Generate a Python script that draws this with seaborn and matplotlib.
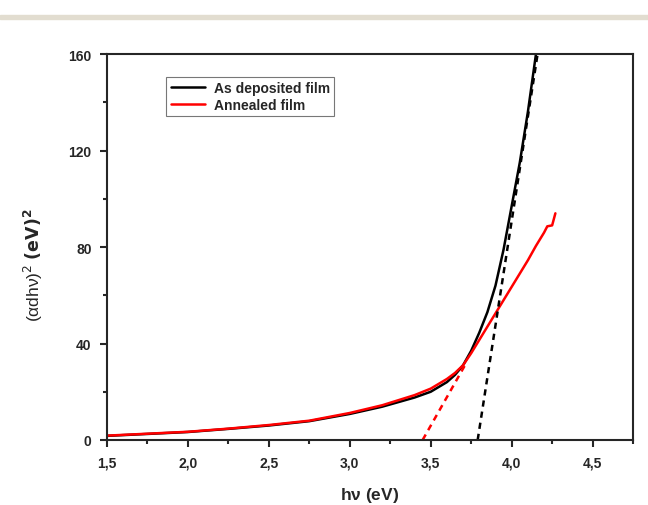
import numpy as np
import pandas as pd
import seaborn as sns
import matplotlib.pyplot as plt
from matplotlib.patches import Rectangle
from matplotlib.ticker import MultipleLocator, FuncFormatter

# As deposited film
dep_x = [1.5, 1.75, 2.0, 2.25, 2.5, 2.75, 3.0, 3.2, 3.4, 3.5, 3.6, 3.65, 3.7,
         3.75, 3.8, 3.85, 3.9, 3.95, 4.0, 4.05, 4.1, 4.15]
dep_y = [1.7, 2.5, 3.3, 4.6, 6.0, 7.8, 10.8, 13.8, 17.6, 20.0, 24.0, 27.0, 31.0,
         37.0, 44.5, 53.0, 64.0, 79.0, 97.0, 115.0, 136.0, 160.0]

# Annealed film
ann_x = [1.5, 1.75, 2.0, 2.25, 2.5, 2.75, 3.0, 3.2, 3.4, 3.5, 3.6, 3.65, 3.7,
         3.75, 3.8, 3.85, 3.9, 3.95, 4.0, 4.05, 4.1, 4.15, 4.2, 4.22, 4.235,
         4.25, 4.26, 4.27]
ann_y = [1.8, 2.6, 3.4, 4.7, 6.2, 8.0, 11.2, 14.4, 18.6, 21.3, 25.3, 27.8, 31.0,
         36.0, 41.5, 47.0, 52.5, 58.0, 63.5, 69.0, 74.5, 80.5, 86.0, 88.6, 88.8,
         89.0, 91.5, 94.0]

# linear fits (band gap extrapolation)
fit_dep_x = [3.79, 4.16]
fit_dep_y = [0, 160]
fit_ann_x = [3.45, 3.72]
fit_ann_y = [0, 32]

sns.set_style("ticks")
plt.rcParams['font.family'] = ['Liberation Sans', 'DejaVu Sans']

fig = plt.figure(figsize=(6.48, 5.06), dpi=100)
ax = fig.add_axes([0.165, 0.1285, 0.812, 0.7625])

# grey band at top of the page
fig.patches.append(Rectangle((0, 1 - 20 / 506), 1, 4 / 506, transform=fig.transFigure,
                             color='#e2ddd0', zorder=0))

df_dep = pd.DataFrame({'x': dep_x, 'y': dep_y})
df_ann = pd.DataFrame({'x': ann_x, 'y': ann_y})

sns.lineplot(data=df_dep, x='x', y='y', ax=ax, color='black', lw=1.8,
             label='As deposited film', sort=False)
sns.lineplot(data=df_ann, x='x', y='y', ax=ax, color='red', lw=1.8,
             label='Annealed film', sort=False)
ax.plot(fit_dep_x, fit_dep_y, color='black', lw=1.8, ls=(0, (2.5, 2)))
ax.plot(fit_ann_x, fit_ann_y, color='red', lw=1.8, ls=(0, (2.5, 2)))

ax.set_xlim(1.5, 4.75)
ax.set_ylim(0, 160)
ax.xaxis.set_major_locator(MultipleLocator(0.5))
ax.xaxis.set_minor_locator(MultipleLocator(0.25))
ax.yaxis.set_major_locator(MultipleLocator(40))
ax.yaxis.set_minor_locator(MultipleLocator(20))
ax.xaxis.set_major_formatter(FuncFormatter(lambda v, p: f"{v:.1f}".replace('.', ',')))
ax.tick_params(which='major', direction='out', length=5, width=1.5, labelsize=10, pad=6)
ax.tick_params(which='minor', direction='out', length=3, width=1.5)
for lab in ax.get_xticklabels() + ax.get_yticklabels():
    lab.set_fontweight('bold')
for s in ax.spines.values():
    s.set_linewidth(1.5)
    s.set_visible(True)

ax.set_xlabel(r'h$\mathregular{\nu}$ (eV)', fontsize=12.5, fontweight='bold', labelpad=11)
ax.set_ylabel(r'($\mathregular{\alpha dh\nu}$)$^{2}$ $\mathbf{(eV)^{2}}$', fontsize=12.5)
ax.yaxis.set_label_coords(-0.118, 0.455)

leg = ax.legend(loc='upper left', bbox_to_anchor=(0.1, 0.96), frameon=True, fancybox=False,
                edgecolor='#555555', handlelength=2.5, handletextpad=0.6, borderpad=0.3,
                labelspacing=0.25, prop={'weight': 'bold', 'size': 10})
leg.get_frame().set_linewidth(0.8)

fig.savefig('out.png', dpi=100)
